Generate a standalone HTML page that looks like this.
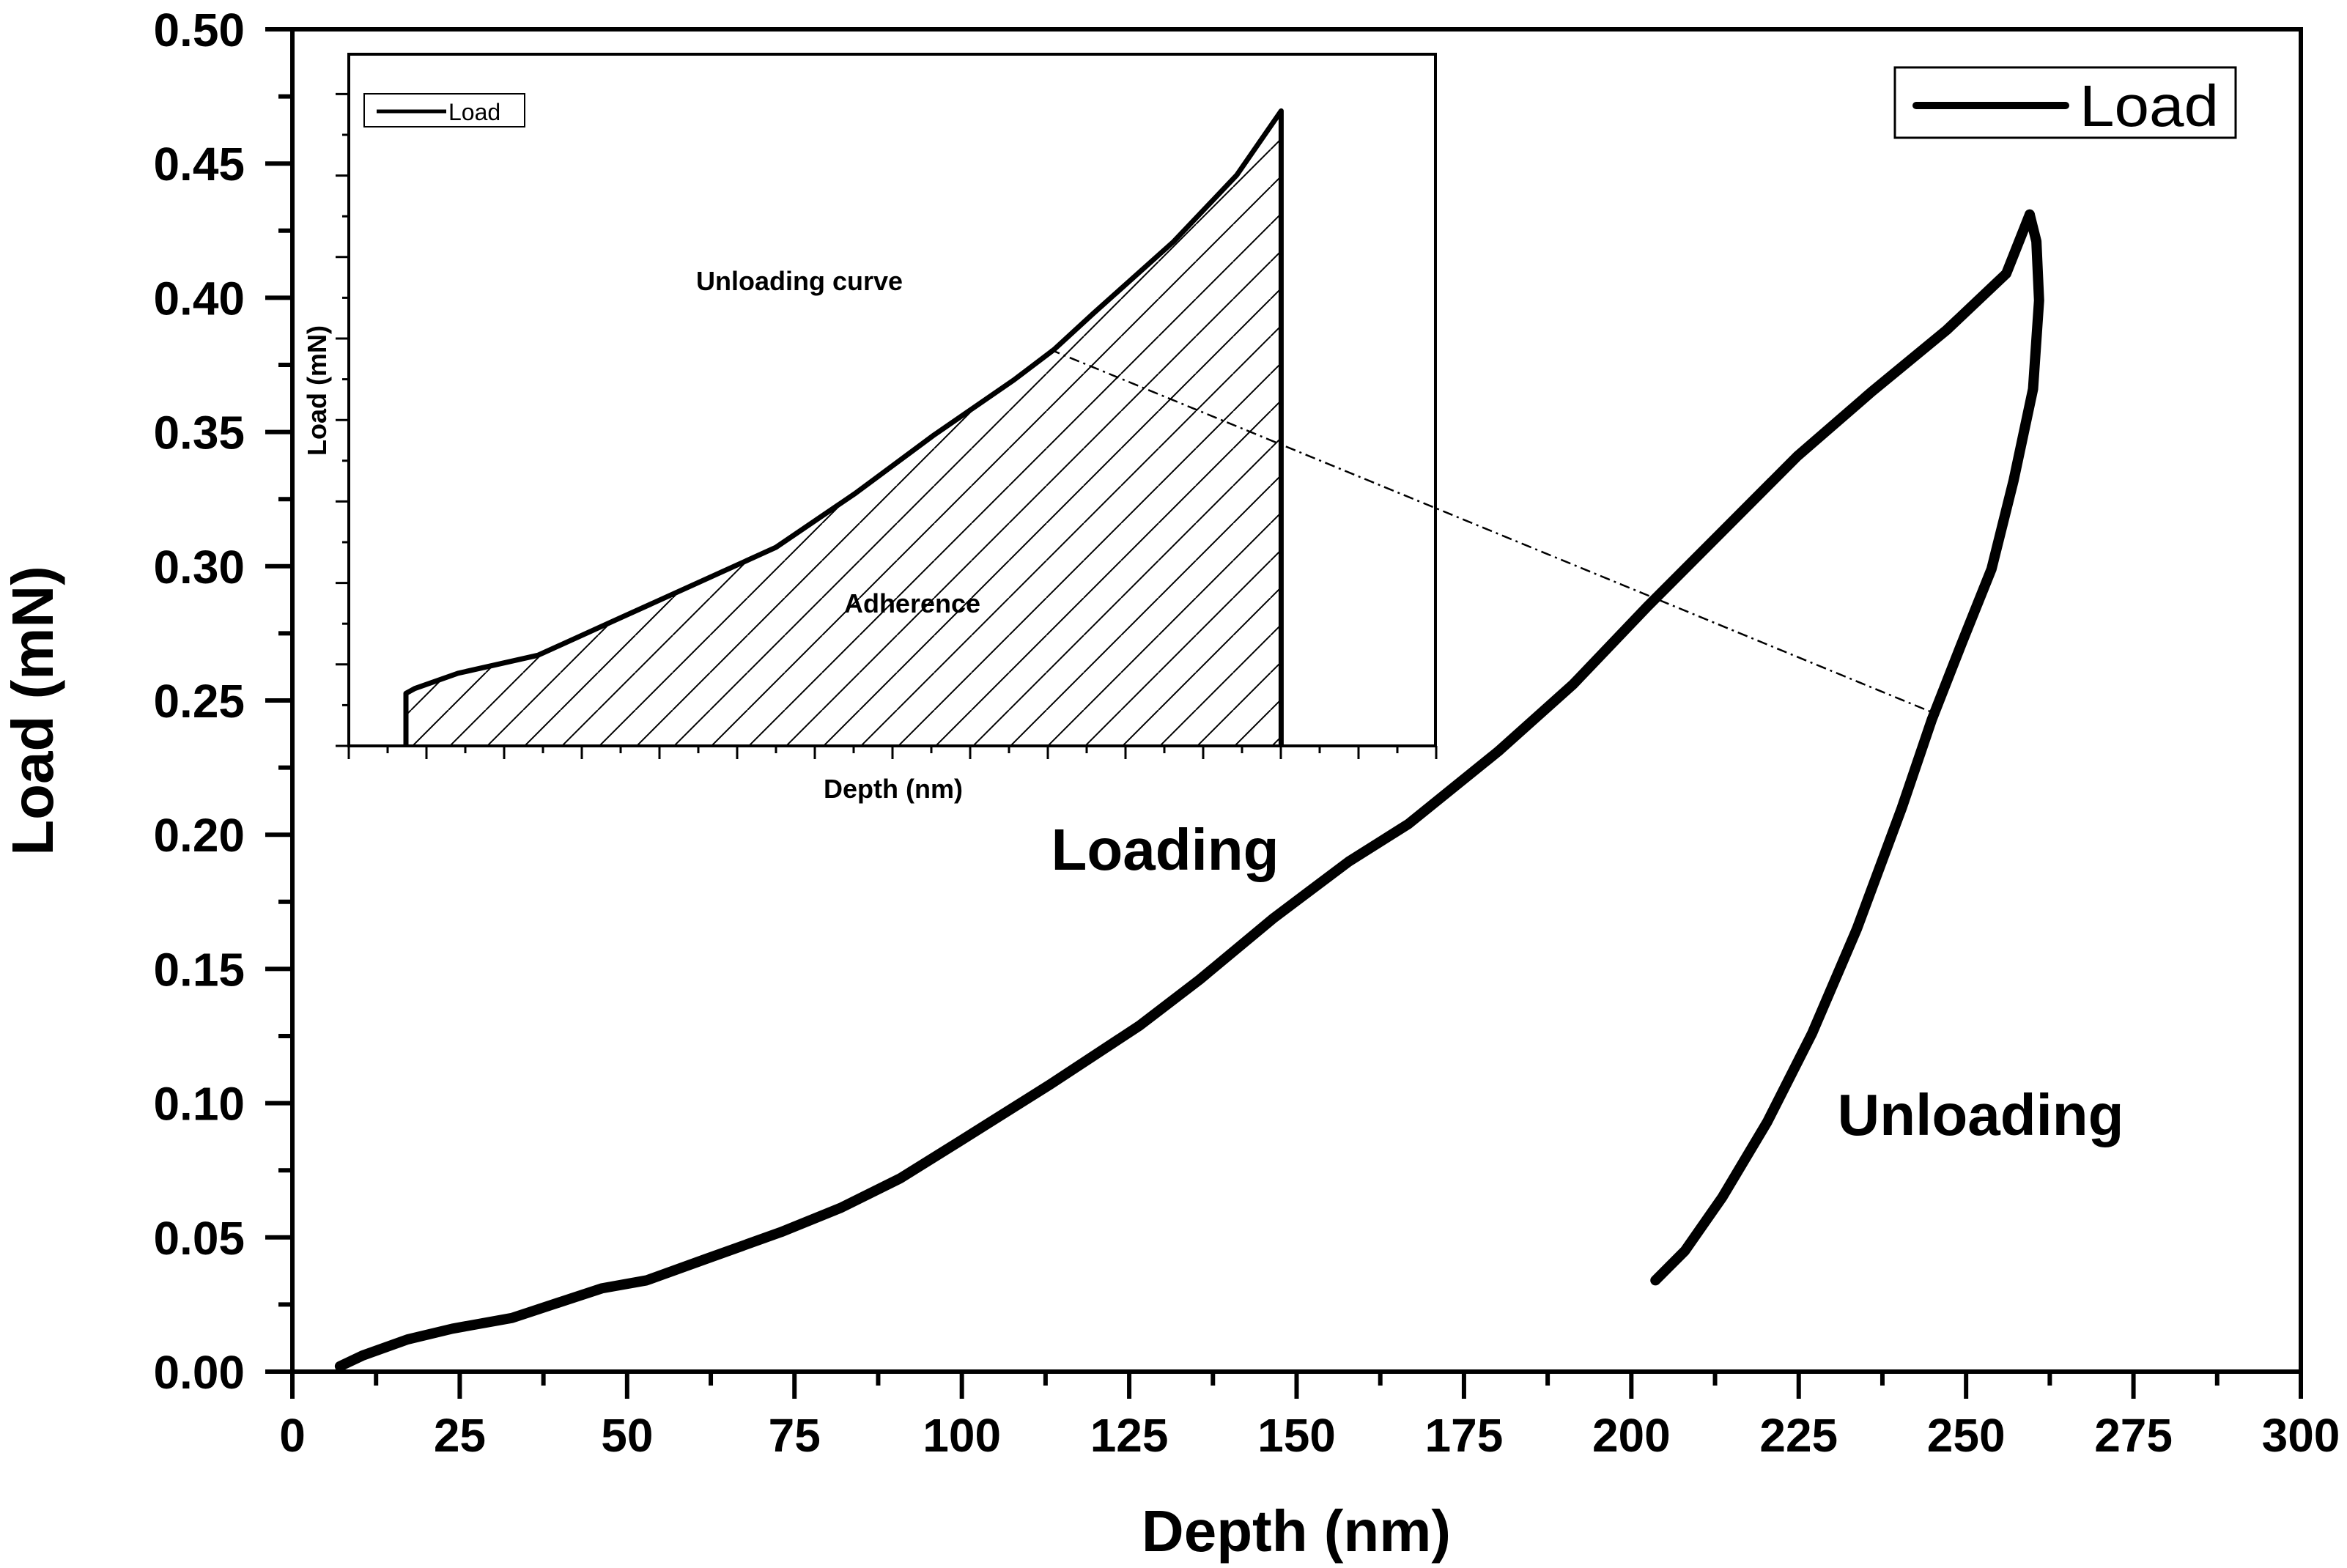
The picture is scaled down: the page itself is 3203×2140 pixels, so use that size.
<!DOCTYPE html>
<html><head><meta charset="utf-8"><style>
html,body{margin:0;padding:0;background:#fff;}
svg{display:block;font-family:"Liberation Sans",Arial,sans-serif;}
</style></head><body>
<svg id="chart" width="3203" height="2140" viewBox="0 0 3203 2140" xmlns="http://www.w3.org/2000/svg">
<defs>
<pattern id="hatch" patternUnits="userSpaceOnUse" width="51" height="51">
<line x1="0" y1="51" x2="51" y2="0" stroke="#000" stroke-width="2"/>
<line x1="-51" y1="51" x2="0" y2="0" stroke="#000" stroke-width="2"/>
<line x1="51" y1="51" x2="102" y2="0" stroke="#000" stroke-width="2"/>
</pattern>
</defs>
<g id="main-ticks"></g>
<g id="main-labels"></g>
<rect x="399" y="40" width="2741" height="1832" fill="none" stroke="#000" stroke-width="6"/>
<g id="inset"></g>
<g id="series"></g>
<text x="1769" y="2117" font-size="80" font-weight="bold" text-anchor="middle">Depth (nm)</text>
<text transform="translate(72,970) rotate(-90)" font-size="80" font-weight="bold" text-anchor="middle">Load (mN)</text>
<g>
<rect x="2586" y="92" width="465" height="96" fill="#fff" stroke="#000" stroke-width="3"/>
<line x1="2615" y1="144" x2="2819" y2="144" stroke="#000" stroke-width="10" stroke-linecap="round"/>
<text x="2838" y="172" font-size="80" textLength="190" lengthAdjust="spacingAndGlyphs">Load</text>
</g>
<text x="1590" y="1187" font-size="80" font-weight="bold" text-anchor="middle">Loading</text>
<text x="2703" y="1549" font-size="80" font-weight="bold" text-anchor="middle">Unloading</text>
</svg>
<script>
// main chart data
const xTicks = [0,25,50,75,100,125,150,175,200,225,250,275,300];
const yTicks = [0.00,0.05,0.10,0.15,0.20,0.25,0.30,0.35,0.40,0.45,0.50];
const loadDepth = [7.1,10.5,17.2,23.9,32.8,46.2,52.9,61.8,73.0,81.9,90.8,99.8,113.2,126.6,135.5,146.6,157.8,166.7,180.1,191.3,202.4,213.6,224.8,235.9,247.1,256.0,259.5];
const loadValue = [0.002,0.006,0.012,0.016,0.020,0.031,0.034,0.042,0.052,0.061,0.072,0.086,0.107,0.129,0.146,0.169,0.190,0.204,0.231,0.256,0.285,0.313,0.341,0.365,0.388,0.409,0.431];
const unloadDepth = [259.5,260.5,260.9,260.0,257.1,253.8,249.3,244.9,240.4,233.7,227.0,220.3,213.6,208.0,203.6];
const unloadValue = [0.431,0.421,0.399,0.366,0.332,0.299,0.271,0.243,0.210,0.165,0.126,0.093,0.065,0.045,0.034];
// inset data (normalized inset units)
const insetDepth = [0.0526,0.0526,0.0607,0.1005,0.174,0.247,0.320,0.393,0.466,0.539,0.612,0.649,0.685,0.759,0.817,0.858];
const insetLoad = [0.0,0.076,0.083,0.105,0.131,0.183,0.235,0.287,0.365,0.450,0.529,0.573,0.625,0.729,0.825,0.918];

const NS="http://www.w3.org/2000/svg";
function mk(tag,attrs,parent){const e=document.createElementNS(NS,tag);for(const k in attrs)e.setAttribute(k,attrs[k]);parent.appendChild(e);return e;}
const X0=399,X1=3140,Y0=1872,Y1=40;
const sx=v=>X0+(v-0)/(300-0)*(X1-X0);
const sy=v=>Y0-(v-0)/(0.5-0)*(Y0-Y1);
const ticks=document.getElementById('main-ticks');
const labels=document.getElementById('main-labels');
xTicks.forEach((t,i)=>{
  const l=mk('line',{x1:sx(t),x2:sx(t),y1:Y0,y2:Y0+37,stroke:'#000','stroke-width':6},ticks);
  
  
  if(i<xTicks.length-1){const m=mk('line',{x1:sx(t+12.5),x2:sx(t+12.5),y1:Y0,y2:Y0+19,stroke:'#000','stroke-width':6},ticks);
  
  }
  const tx=mk('text',{x:sx(t),y:1981,'font-size':64,'font-weight':'bold','text-anchor':'middle'},labels);
  tx.textContent=String(t);
  
  
});
yTicks.forEach((t,i)=>{
  const l=mk('line',{x1:X0-37,x2:X0,y1:sy(t),y2:sy(t),stroke:'#000','stroke-width':6},ticks);
  
  
  if(i<yTicks.length-1){const m=mk('line',{x1:X0-19,x2:X0,y1:sy(t+0.025),y2:sy(t+0.025),stroke:'#000','stroke-width':6},ticks);
  
  }
  const tx=mk('text',{x:334,y:sy(t)+23,'font-size':64,'font-weight':'bold','text-anchor':'end'},labels);
  tx.textContent=t.toFixed(2);
  
  
});
// inset
const inset=document.getElementById('inset');
const IX0=476,IX1=1959,IY0=1018,IY1=74;
const ix=v=>IX0+v*(IX1-IX0);
const iy=v=>IY0-v*(IY0-IY1);
const bg=mk('rect',{x:IX0,y:IY1,width:IX1-IX0,height:IY0-IY1,fill:'#fff',stroke:'#000','stroke-width':4},inset);


for(let k=0;k<=28;k++){const x=IX0+k*53;if(x>IX1+1)break;
  const t=mk('line',{x1:x,x2:x,y1:IY0,y2:IY0+(k%2===0?18:10),stroke:'#000','stroke-width':3},inset);
  
  }
for(let k=0;k<=17;k++){const y=IY0-k*55.6;if(y<IY1)break;
  const t=mk('line',{x1:IX0-(k%2===0?18:9),x2:IX0,y1:y,y2:y,stroke:'#000','stroke-width':3},inset);
  
  }
let pts=insetDepth.map((d,i)=>ix(d)+','+iy(insetLoad[i]));
const last=insetDepth[insetDepth.length-1];
const area=mk('polygon',{points:pts.join(' ')+' '+ix(last)+','+IY0+' '+ix(insetDepth[0])+','+IY0,fill:'url(#hatch)',stroke:'none'},inset);


const ic=mk('polyline',{points:pts.join(' ')+' '+ix(last)+','+IY0,fill:'none',stroke:'#000','stroke-width':7,'stroke-linejoin':'round'},inset);


const lg=mk('rect',{x:497,y:128,width:219,height:45,fill:'#fff',stroke:'#000','stroke-width':2},inset);


const ll=mk('line',{x1:514,x2:609,y1:152,y2:152,stroke:'#000','stroke-width':5},inset);


function itext(x,y,s,txt,bold,anchor,rot){const t=mk('text',{x:x,y:y,'font-size':s,'text-anchor':anchor||'middle'},inset);
  if(bold)t.setAttribute('font-weight','bold');
  if(rot)t.setAttribute('transform','rotate(-90 '+x+' '+y+')');
  t.textContent=txt;return t;}
let t1=itext(612,164,32,'Load',false,'start');


let t2=itext(1091,396,36,'Unloading curve',true);


let t3=itext(1245,836,36,'Adherence',true);


let t4=itext(1219,1089,36,'Depth (nm)',true);


let t5=itext(445,533,36,'Load (mN)',true,'middle',true);


const dl=mk('line',{x1:1433,y1:477,x2:sx(245.5),y2:sy(0.245),stroke:'#000','stroke-width':2.5,'stroke-dasharray':'14,6,3,6'},inset);


// main series
const series=document.getElementById('series');
const lp=loadDepth.map((d,i)=>sx(d)+','+sy(loadValue[i])).join(' ');
const up=unloadDepth.map((d,i)=>sx(d)+','+sy(unloadValue[i])).join(' ');
const lc=mk('polyline',{points:lp,fill:'none',stroke:'#000','stroke-width':14,'stroke-linejoin':'round','stroke-linecap':'round'},series);


const uc=mk('polyline',{points:up,fill:'none',stroke:'#000','stroke-width':14,'stroke-linejoin':'round','stroke-linecap':'round'},series);


</script>
</body></html>
